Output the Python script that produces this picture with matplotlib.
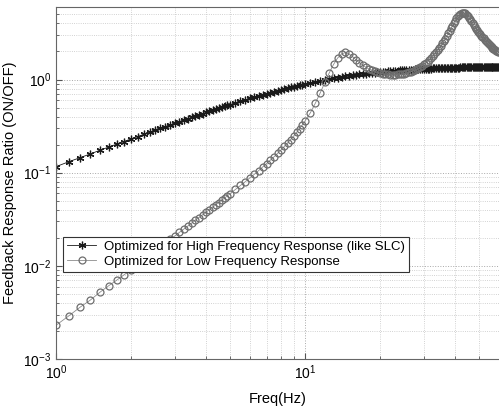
import numpy as np
import matplotlib
matplotlib.use('Agg')
import matplotlib.pyplot as plt

plt.rcParams['font.family'] = ['Liberation Sans', 'DejaVu Sans']
plt.rcParams['mathtext.fontset'] = 'custom'
plt.rcParams['mathtext.rm'] = 'Liberation Sans'
plt.rcParams['mathtext.it'] = 'Liberation Sans:italic'

# frequency points (Hz)
freq = [1.0, 1.125, 1.25, 1.375, 1.5, 1.625, 1.75, 1.875, 2.0, 2.125, 2.25, 2.375,
        2.5, 2.625, 2.75, 2.875, 3.0, 3.125, 3.25, 3.375, 3.5, 3.625, 3.75, 3.875,
        4.0, 4.125, 4.25, 4.375, 4.5, 4.625, 4.75, 4.875, 5.0,
        5.25, 5.5, 5.75, 6.0, 6.25, 6.5, 6.75, 7.0, 7.25, 7.5, 7.75, 8.0, 8.25,
        8.5, 8.75, 9.0, 9.25, 9.5, 9.75, 10.0,
        10.5, 11.0, 11.5, 12.0, 12.5, 13.0, 13.5, 14.0, 14.5, 15.0, 15.5, 16.0,
        16.5, 17.0, 17.5, 18.0, 18.5, 19.0, 19.5, 20.0,
        20.5, 21.0, 21.5, 22.0, 22.5, 23.0, 23.5, 24.0, 24.5, 25.0, 25.5, 26.0,
        26.5, 27.0, 27.5, 28.0, 28.5, 29.0, 29.5, 30.0, 30.5, 31.0, 31.5, 32.0,
        32.5, 33.0, 33.5, 34.0, 34.5, 35.0, 35.5, 36.0, 36.5, 37.0, 37.5, 38.0,
        38.5, 39.0, 39.5, 40.0, 40.5, 41.0, 41.5, 42.0, 42.5, 43.0, 43.5, 44.0,
        44.5, 45.0, 45.5, 46.0, 46.5, 47.0, 47.5, 48.0, 48.5, 49.0, 49.5, 50.0,
        50.5, 51.0, 51.5, 52.0, 52.5, 53.0, 53.5, 54.0, 54.5, 55.0, 55.5, 56.0,
        56.5, 57.0, 57.5, 58.0, 58.5, 59.0, 59.5, 60.0]

# optimized for high frequency response (like SLC)
high_resp = [0.116, 0.131, 0.145, 0.159, 0.174, 0.188, 0.202, 0.216, 0.230, 0.244,
             0.258, 0.272, 0.286, 0.299, 0.313, 0.326, 0.340, 0.353, 0.366, 0.379,
             0.392, 0.405, 0.418, 0.430, 0.443, 0.455, 0.467, 0.480, 0.492, 0.503,
             0.515, 0.527, 0.538,
             0.561, 0.583, 0.605, 0.626, 0.647, 0.667, 0.686, 0.705, 0.724, 0.742,
             0.760, 0.777, 0.793, 0.809, 0.825, 0.840, 0.855, 0.869, 0.883, 0.896,
             0.922, 0.946, 0.969, 0.990, 1.010, 1.029, 1.046, 1.063, 1.079, 1.093,
             1.107, 1.120, 1.132, 1.144, 1.155, 1.165, 1.175, 1.184, 1.192, 1.200,
             1.208, 1.216, 1.222, 1.229, 1.235, 1.241, 1.247, 1.252, 1.257, 1.262,
             1.267, 1.271, 1.275, 1.279, 1.283, 1.287, 1.291, 1.294, 1.297, 1.300,
             1.303, 1.306, 1.309, 1.311, 1.314, 1.316, 1.318, 1.320, 1.322, 1.324,
             1.326, 1.328, 1.330, 1.332, 1.334, 1.335, 1.337, 1.338, 1.340, 1.341,
             1.343, 1.344, 1.345, 1.346, 1.347, 1.348, 1.350, 1.351, 1.352, 1.353,
             1.354, 1.355, 1.356, 1.357, 1.357, 1.358, 1.359, 1.360, 1.360, 1.361,
             1.362, 1.363, 1.363, 1.364, 1.364, 1.365, 1.365, 1.366, 1.367, 1.368,
             1.368, 1.369, 1.369, 1.370, 1.370, 1.371, 1.371, 1.372, 1.372, 1.373]

# optimized for low frequency response
low_resp = [0.0023, 0.0029, 0.0036, 0.0043, 0.0052, 0.0061, 0.0070, 0.0080, 0.0091,
            0.0103, 0.0116, 0.0129, 0.0144, 0.0159, 0.0175, 0.0192, 0.0210, 0.0228,
            0.0247, 0.0267, 0.0287, 0.0308, 0.0330, 0.0353, 0.0376, 0.0400, 0.0425,
            0.0451, 0.0478, 0.0506, 0.0535, 0.0565, 0.0595,
            0.066, 0.073, 0.080, 0.088, 0.096, 0.105, 0.115, 0.125, 0.136, 0.148,
            0.161, 0.175, 0.191, 0.208, 0.227, 0.248, 0.271, 0.297, 0.326, 0.36,
            0.44, 0.56, 0.72, 0.93, 1.18, 1.45, 1.70, 1.88, 1.95, 1.88, 1.76, 1.63,
            1.52, 1.43, 1.36, 1.30, 1.26, 1.22, 1.19, 1.17,
            1.155, 1.14, 1.135, 1.13, 1.13, 1.13, 1.135, 1.14, 1.15, 1.16, 1.175,
            1.19, 1.21, 1.23, 1.26, 1.29, 1.32, 1.36, 1.40, 1.45, 1.50, 1.56, 1.63,
            1.70, 1.78, 1.86, 1.96, 2.06, 2.18, 2.30, 2.44, 2.58, 2.75, 2.92, 3.12,
            3.32, 3.55, 3.78, 4.03, 4.28, 4.52, 4.75, 4.93, 5.08, 5.18, 5.22, 5.20,
            5.12, 4.98, 4.80, 4.63, 4.45, 4.22, 4.00, 3.82, 3.65, 3.51, 3.38, 3.26,
            3.15, 3.05, 2.95, 2.86, 2.77, 2.68, 2.60, 2.53, 2.46, 2.39, 2.33, 2.28,
            2.23, 2.18, 2.14, 2.10, 2.07, 2.03, 2.00, 1.97, 1.95]

fig = plt.figure(figsize=(4.99, 4.08), dpi=100)
ax = fig.add_axes([0.1122, 0.1201, 0.8878, 0.8627])

ax.loglog(freq, high_resp, color='#1a1a1a', lw=0.6, marker=(6, 2, 0), ms=5.5,
          mew=0.9, label='Optimized for High Frequency Response (like SLC)')
ax.loglog(freq, low_resp, color='#8c8c8c', lw=0.6, marker='o', ms=5,
          mfc='none', mec='#6e6e6e', mew=0.9,
          label='Optimized for Low Frequency Response')

ax.set_xlim(1, 60)
ax.set_ylim(1e-3, 6)
ax.grid(True, which='major', ls=':', color='#a8a8a8', lw=0.7)
ax.grid(True, which='minor', ls=':', color='#c4c4c4', lw=0.6)
ax.tick_params(which='both', direction='in', colors='#555555', labelcolor='black',
               labelsize=10)
ax.tick_params(which='major', length=4)
ax.tick_params(which='minor', length=2)
ax.set_xticks([1, 10])
ax.set_yticks([1e-3, 1e-2, 1e-1, 1])
ax.xaxis.set_minor_formatter(plt.NullFormatter())
for s in ['left', 'bottom', 'top']:
    ax.spines[s].set_color('#666666')
ax.spines['right'].set_visible(False)

ax.set_xlabel('Freq(Hz)', fontsize=10.5, labelpad=7)
ax.set_ylabel('Feedback Response Ratio (ON/OFF)', fontsize=10.5, labelpad=4)

leg = ax.legend(loc='upper left', bbox_to_anchor=(0.016, 0.347), borderaxespad=0,
                fontsize=9.5, fancybox=False, framealpha=1, edgecolor='#333333',
                handlelength=2.2, handletextpad=0.6, borderpad=0.3,
                labelspacing=0.2)
leg.get_frame().set_linewidth(0.8)

plt.savefig('out.png', dpi=100)
